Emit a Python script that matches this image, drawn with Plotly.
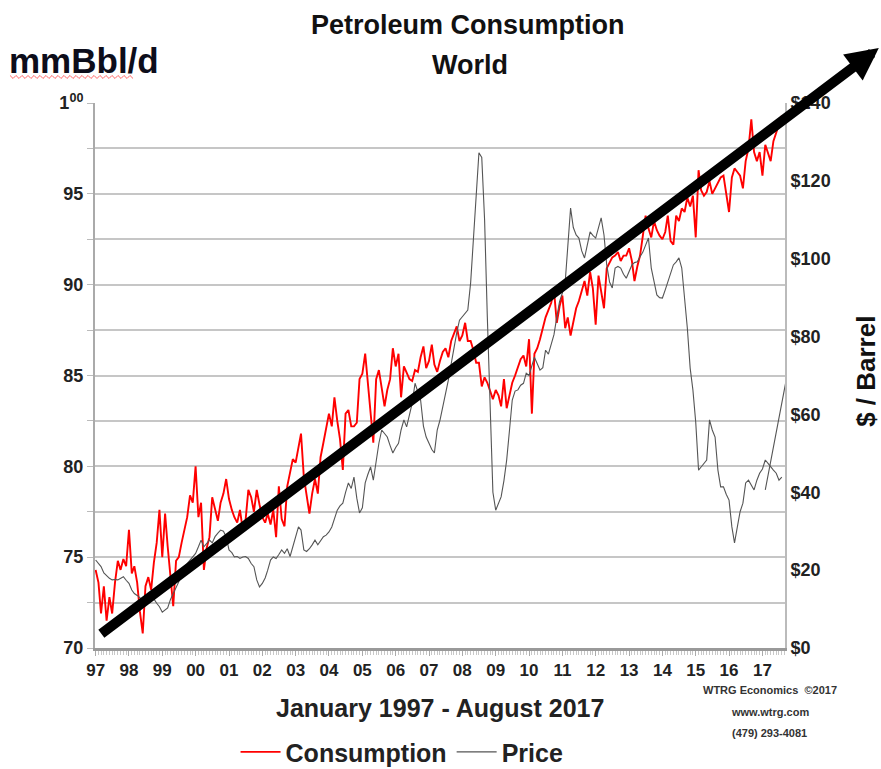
import plotly.graph_objects as go
import pandas as pd

# Consumo mundial de petróleo (mmBbl/d), valores mensuales
cons_1997 = [74.3, 73.6, 71.9, 73.4, 71.5, 72.8, 71.9, 73.6, 74.8, 74.3, 74.9, 74.5]
cons_1998 = [76.5, 74.1, 74.5, 73.6, 72.0, 70.8, 73.4, 73.9, 73.2, 74.7, 75.8, 77.6]
cons_1999 = [75.0, 77.4, 75.6, 74.0, 72.3, 74.8, 75.0, 75.8, 76.5, 77.2, 78.4, 78.0]
cons_2000 = [80.0, 77.2, 78.0, 74.3, 75.5, 76.1, 78.3, 77.6, 77.0, 78.0, 78.5, 79.3]
cons_2001 = [78.2, 77.6, 77.2, 76.9, 77.6, 76.5, 77.0, 78.7, 78.3, 77.5, 78.7, 77.9]
cons_2002 = [77.2, 76.9, 77.4, 76.8, 77.6, 76.1, 78.9, 77.1, 76.7, 78.9, 79.6, 80.4]
cons_2003 = [80.2, 81.0, 81.8, 79.4, 78.3, 77.4, 78.5, 79.3, 78.5, 80.5, 81.3, 82.2]
cons_2004 = [82.9, 82.2, 83.8, 82.5, 81.5, 79.8, 82.9, 83.1, 82.2, 82.2, 82.4, 84.8]
cons_2005 = [85.1, 86.2, 84.6, 83.0, 81.3, 84.8, 85.3, 84.3, 83.3, 84.2, 84.8, 86.5]
cons_2006 = [85.5, 86.2, 83.8, 85.5, 85.1, 84.8, 84.7, 85.3, 85.2, 86.0, 86.6, 85.4]
cons_2007 = [85.8, 86.7, 85.6, 85.2, 85.8, 86.3, 86.5, 86.0, 86.9, 87.3, 87.7, 86.9]
cons_2008 = [87.2, 87.9, 86.9, 86.9, 86.4, 85.7, 85.7, 84.4, 84.9, 84.6, 84.2, 83.7]
cons_2009 = [84.2, 83.9, 83.3, 84.8, 83.2, 84.0, 84.6, 85.0, 85.4, 85.9, 86.1, 85.5]
cons_2010 = [87.0, 82.9, 86.2, 86.5, 87.0, 87.6, 88.2, 88.6, 89.0, 89.7, 87.9, 88.8]
cons_2011 = [89.4, 87.6, 88.2, 87.2, 88.0, 88.7, 89.1, 89.6, 90.2, 89.4, 90.7, 89.8]
cons_2012 = [87.8, 90.5, 89.6, 88.7, 90.9, 91.2, 91.5, 91.6, 91.8, 91.3, 91.6, 91.6]
cons_2013 = [92.0, 91.3, 90.2, 91.0, 91.6, 92.7, 93.8, 93.1, 92.6, 93.5, 93.0, 92.7]
cons_2014 = [92.5, 92.9, 93.8, 92.4, 92.2, 93.8, 93.5, 94.2, 94.0, 94.8, 94.3, 94.9]
cons_2015 = [92.6, 96.3, 95.2, 94.9, 95.1, 95.7, 95.0, 95.3, 95.6, 95.9, 96.0, 94.9]
cons_2016 = [94.0, 95.9, 96.4, 96.2, 96.0, 95.3, 96.8, 97.5, 99.1, 97.3, 96.8, 97.3]
cons_2017 = [96.0, 97.7, 97.3, 96.8, 97.9, 98.4, 98.8, 99.3]

# Precio del crudo ($/barril)
price_1997 = [22.6, 21.8, 20.9, 19.3, 18.6, 17.9, 17.5, 17.6, 17.5, 18.0, 18.3, 17.4]
price_1998 = [16.6, 14.9, 14.0, 13.5, 13.0, 12.3, 12.3, 12.9, 13.2, 12.6, 11.5, 10.6]
price_1999 = [9.2, 9.8, 10.3, 12.5, 14.1, 15.5, 17.0, 19.2, 20.9, 21.7, 22.6, 23.5]
price_2000 = [24.3, 26.0, 27.7, 26.0, 26.9, 27.7, 27.0, 28.6, 29.5, 30.3, 30.0, 28.6]
price_2001 = [25.2, 24.5, 23.4, 23.5, 23.0, 23.4, 23.5, 23.0, 21.7, 20.9, 17.5, 15.7]
price_2002 = [16.6, 18.0, 20.0, 22.6, 23.4, 23.0, 24.0, 25.2, 24.3, 25.5, 23.5, 26.0]
price_2003 = [28.5, 31.1, 30.3, 25.2, 24.8, 25.5, 26.5, 27.7, 26.5, 27.5, 28.6, 29.0]
price_2004 = [29.8, 31.1, 33.0, 35.4, 36.5, 37.2, 40.0, 42.4, 41.0, 43.9, 38.5, 34.7]
price_2005 = [36.0, 42.4, 44.5, 46.5, 43.1, 48.0, 52.6, 56.0, 55.0, 54.2, 52.0, 50.1]
price_2006 = [51.5, 52.6, 56.0, 58.6, 56.8, 60.0, 62.9, 68.0, 66.0, 63.7, 57.0, 54.2]
price_2007 = [52.6, 51.0, 50.1, 56.0, 58.5, 61.9, 65.0, 68.8, 73.0, 77.3, 81.0, 84.2]
price_2008 = [85.0, 86.0, 86.8, 93.8, 105.6, 116.9, 127.2, 126.0, 110.0, 85.0, 60.0, 40.0]
price_2009 = [35.4, 37.0, 38.8, 43.0, 48.3, 56.0, 63.7, 66.0, 66.3, 67.5, 68.0, 70.6]
price_2010 = [70.0, 72.5, 74.7, 73.0, 71.4, 72.0, 76.5, 75.5, 78.3, 80.5, 85.0, 89.0]
price_2011 = [91.2, 94.0, 103.0, 113.0, 108.0, 106.1, 105.3, 102.0, 100.2, 104.0, 106.9, 106.0]
price_2012 = [105.3, 108.0, 110.5, 106.1, 98.4, 94.0, 92.5, 97.6, 98.0, 97.6, 96.0, 95.0]
price_2013 = [96.5, 98.4, 99.0, 99.2, 100.5, 101.7, 103.5, 105.3, 97.6, 94.0, 90.7, 90.0]
price_2014 = [89.9, 92.0, 94.0, 96.5, 98.4, 99.2, 100.2, 97.6, 90.7, 82.2, 71.9, 66.3]
price_2015 = [58.0, 45.7, 46.5, 47.5, 48.3, 58.6, 56.0, 54.2, 45.7, 41.4, 41.4, 39.5]
price_2016 = [38.0, 31.1, 27.0, 31.1, 35.0, 37.2, 42.4, 43.1, 42.0, 40.6, 43.1, 44.9]
price_2017 = [46.0, 48.3, 47.5, 46.5, 45.7, 44.9, 43.1, 43.9]

# trazo suelto que aparece al final del gráfico original
stray_dates = ["2017-02-01", "2017-11-15", "2018-02-01"]
stray_price = [40.6, 76.0, 66.0]

consumption = (cons_1997 + cons_1998 + cons_1999 + cons_2000 + cons_2001 + cons_2002
               + cons_2003 + cons_2004 + cons_2005 + cons_2006 + cons_2007 + cons_2008
               + cons_2009 + cons_2010 + cons_2011 + cons_2012 + cons_2013 + cons_2014
               + cons_2015 + cons_2016 + cons_2017)
price = (price_1997 + price_1998 + price_1999 + price_2000 + price_2001 + price_2002
         + price_2003 + price_2004 + price_2005 + price_2006 + price_2007 + price_2008
         + price_2009 + price_2010 + price_2011 + price_2012 + price_2013 + price_2014
         + price_2015 + price_2016 + price_2017)
dates = pd.date_range("1997-01-01", periods=len(consumption), freq="MS")

year_ticks = [f"{y}-01-01" for y in range(1997, 2018)]
year_labels = [f"{y % 100:02d}" for y in range(1997, 2018)]
left_ticks = [70 + 2.5 * i for i in range(13)]
left_labels = ["70", "", "75", "", "80", "", "85", "", "90", "", "95", "", "1<sup>00</sup>"]
right_ticks = list(range(0, 141, 20))
right_labels = [f"${v}" for v in right_ticks]

FONT = "Liberation Sans, Arial"

fig = go.Figure()
fig.add_trace(go.Scatter(x=dates, y=consumption, name="Consumption", mode="lines",
                         line=dict(color="#ff0000", width=1.9)))
fig.add_trace(go.Scatter(x=dates, y=price, name="Price", mode="lines", yaxis="y2",
                         line=dict(color="#555555", width=1.1)))
fig.add_trace(go.Scatter(x=pd.to_datetime(stray_dates), y=stray_price, mode="lines", yaxis="y2",
                         showlegend=False, line=dict(color="#555555", width=1.1)))

fig.update_layout(
    width=881, height=769,
    margin=dict(l=95, r=96, t=103, b=121, autoexpand=False),
    paper_bgcolor="white", plot_bgcolor="white",
    font=dict(family=FONT, color="#222"),
    showlegend=True,
    legend=dict(orientation="h", x=0.445, xanchor="center", y=-0.191, yanchor="middle",
                font=dict(family=FONT, size=25, weight="bold", color="#222"),
                itemwidth=40, bgcolor="rgba(0,0,0,0)"),
    xaxis=dict(type="date", range=["1996-12-25", "2017-09-05"], automargin=False,
               tickvals=year_ticks, ticktext=year_labels,
               tickfont=dict(family=FONT, size=17, weight="bold", color="#222"),
               ticks="outside", ticklen=5, tickcolor="#aaa",
               minor=dict(ticks="outside", dtick="M1", ticklen=4, tickcolor="#c8c8c8"),
               showline=True, linecolor="#999", linewidth=3, showgrid=False, zeroline=False),
    yaxis=dict(range=[70, 100], tickvals=left_ticks, ticktext=left_labels, automargin=False,
               tickfont=dict(family=FONT, size=18, weight="bold", color="#222"),
               ticks="outside", ticklen=6, tickcolor="#bbb",
               showgrid=True, gridcolor="#c6c6c6", gridwidth=2,
               showline=True, linecolor="#aaa", linewidth=2, zeroline=False),
    yaxis2=dict(range=[0, 140], overlaying="y", side="right", automargin=False,
                tickvals=right_ticks, ticktext=right_labels,
                tickfont=dict(family=FONT, size=18, weight="bold", color="#222"),
                showgrid=False, showline=True, linecolor="#bbb", linewidth=2, zeroline=False),
)

# Títulos y textos (pixel -> paper: x=(px-95)/690, y=(648-py)/545)
fig.add_annotation(text="Petroleum Consumption", x=0.54, y=1.143, xref="paper", yref="paper",
                   xanchor="center", yanchor="middle", showarrow=False,
                   font=dict(family=FONT, size=27, weight="bold", color="#111"))
fig.add_annotation(text="World", x=0.543, y=1.07, xref="paper", yref="paper",
                   xanchor="center", yanchor="middle", showarrow=False,
                   font=dict(family=FONT, size=27, weight="bold", color="#111"))
fig.add_annotation(text="mmBbl/d", x=-0.127, y=1.078, xref="paper", yref="paper",
                   xanchor="left", yanchor="middle", showarrow=False,
                   font=dict(family=FONT, size=35, weight="bold", color="#0d0d1a"))
fig.add_annotation(text="$ / Barrel", x=1.117, y=0.508, xref="paper", yref="paper",
                   xanchor="center", yanchor="middle", textangle=-90, showarrow=False,
                   font=dict(family=FONT, size=26, weight="bold", color="#111"))
fig.add_annotation(text="January 1997 - August 2017", x=0.5, y=-0.11, xref="paper", yref="paper",
                   xanchor="center", yanchor="middle", showarrow=False,
                   font=dict(family=FONT, size=25, weight="bold", color="#222"))
for line_text, y_pos in [("WTRG Economics  ©2017", -0.077), ("www.wtrg.com", -0.117),
                         ("(479) 293-4081", -0.156)]:
    fig.add_annotation(text=line_text, x=0.978, y=y_pos, xref="paper", yref="paper",
                       xanchor="center", yanchor="middle", showarrow=False,
                       font=dict(family=FONT, size=11, weight="bold", color="#333"))

# subrayado ondulado rojo bajo la unidad (marca del corrector)
wave = "M" + " L".join(
    f"{(10 + 3 * i - 95) / 690:.4f},{(648 - (77 + (1.5 if i % 2 else -1.5))) / 545:.4f}"
    for i in range(42))
fig.add_shape(type="path", path=wave, xref="paper", yref="paper",
              line=dict(color="#ff6666", width=1))

# Flecha de tendencia
fig.add_annotation(text="", x=1.136, y=1.101, xref="paper", yref="paper",
                   ax=-779, ay=587, showarrow=True, arrowhead=2, arrowsize=0.65,
                   arrowwidth=10, arrowcolor="black")

# quitar el margen por defecto de la página
fig.write_html("out.html", config={"displayModeBar": False},
               post_script="document.body.style.margin='0';")
